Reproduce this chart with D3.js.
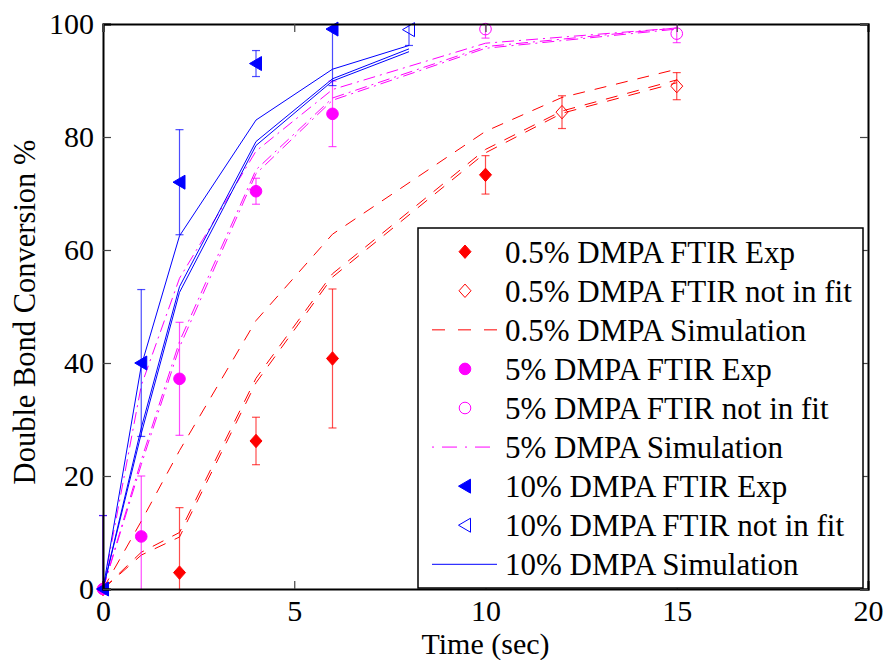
<!DOCTYPE html>
<html>
<head>
<meta charset="utf-8">
<script src="https://cdn.jsdelivr.net/npm/d3@7"></script>
<style>
  body { margin: 0; background: #fff; }
  svg { display: block; }
</style>
</head>
<body>
<svg id="chart" width="883" height="660"></svg>
<script>
// Axis ticks
const xTicks = [0, 5, 10, 15, 20];
const yTicks = [0, 20, 40, 60, 80, 100];

// 0.5% DMPA
const lowExpTime  = [0, 2, 4, 6, 10];
const lowExpValue = [0, 2.9, 26.2, 40.8, 73.3];
const lowExpErr   = [0, 11.5, 4.2, 12.3, 3.4];
const lowOutTime  = [12, 15];
const lowOutValue = [84.4, 89.0];
const lowOutErr   = [2.9, 2.4];
const lowSimTime  = [0, 1, 2, 4, 6, 10, 12, 15];
const lowSimA     = [0, 12, 24.5, 47.5, 62.8, 81, 87, 92];
const lowSimB     = [0, 6.5, 10, 37.3, 55.8, 77.8, 84.6, 90.1];
const lowSimC     = [0, 6, 9.2, 36.5, 55.2, 77.2, 84.2, 89.6];

// 5% DMPA
const midExpTime  = [0, 1, 2, 4, 6];
const midExpValue = [0, 9.3, 37.2, 70.4, 84.1];
const midExpErr   = [13, 10.7, 10, 2.3, 5.8];
const midOutTime  = [10, 15];
const midOutValue = [99.1, 98.3];
const midOutErr   = [1.6, 1.6];
const midSimTime  = [0, 1, 2, 4, 6, 10, 15];
const midSimA     = [0, 36, 55, 77.5, 88.4, 96.6, 99.3];
const midSimB     = [0, 22.8, 43.8, 74.2, 86.9, 96.0, 99.3];
const midSimC     = [0, 22, 42.8, 73.5, 86.5, 95.7, 99.1];

// 10% DMPA
const highExpTime  = [0, 1, 2, 4, 6];
const highExpValue = [0, 40, 72, 93, 99.1];
const highExpErr   = [13, 13, 9.3, 2.3, 10];
const highOutTime  = [8];
const highOutValue = [99];
const highOutErr   = [2.8];
const highSimTime  = [0, 1, 2, 4, 6, 8];
const highSimA     = [0, 39.5, 62.5, 83, 92, 96.2];
const highSimB     = [0, 28.5, 53.5, 79.2, 90.3, 95.6];
const highSimC     = [0, 27.5, 52.5, 78.5, 89.9, 95.1];

const RED = "#ff0000", MAG = "#ff00ff", BLUE = "#0000ff";
const DASH = "12,10", DASHDOT = "12,5,2,5";
const SERIF = "'Liberation Serif', 'Times New Roman', Times, 'DejaVu Serif', serif";

const svg = d3.select("#chart");
const plotLeft = 103, plotRight = 868, plotTop = 24, plotBottom = 589;
const x = d3.scaleLinear().domain([0, 20]).range([plotLeft, plotRight]);
const y = d3.scaleLinear().domain([0, 100]).range([plotBottom, plotTop]);

svg.append("rect").attr("width", 883).attr("height", 660).attr("fill", "#fff");

svg.append("defs").append("clipPath").attr("id", "plotClip")
  .append("rect").attr("x", plotLeft - 4).attr("y", plotTop)
  .attr("width", plotRight - plotLeft + 8).attr("height", plotBottom - plotTop);

// marker shapes
const markerPath = {
  diamond: "M0,-6.7L6,0L0,6.7L-6,0Z",
  circle: d3.symbol().type(d3.symbolCircle).size(Math.PI * 5.8 * 5.8)(),
  triangle: "M-6.5,0L5.5,-7L5.5,7Z"
};

const clipped = svg.append("g").attr("clip-path", "url(#plotClip)");
const marks = svg.append("g");

function simLine(times, values, color, dash) {
  const pts = times.map((t, i) => [t, values[i]]);
  clipped.append("path")
    .attr("d", d3.line().x(d => x(d[0])).y(d => y(d[1]))(pts))
    .attr("fill", "none").attr("stroke", color).attr("stroke-width", 1)
    .attr("stroke-dasharray", dash || null);
}

function errorSeries(times, values, errs, color, shape, filled) {
  times.forEach((t, i) => {
    const e = errs[i];
    if (e > 0) {
      const cx = x(t), y1 = y(values[i] - e), y2 = y(values[i] + e);
      const g = clipped.append("g").attr("stroke", color).attr("stroke-width", 1.2).attr("stroke-opacity", 0.7);
      g.append("line").attr("x1", cx).attr("x2", cx).attr("y1", y1).attr("y2", y2);
      g.append("line").attr("x1", cx - 4).attr("x2", cx + 4).attr("y1", y1).attr("y2", y1);
      g.append("line").attr("x1", cx - 4).attr("x2", cx + 4).attr("y1", y2).attr("y2", y2);
    }
  });
  times.forEach((t, i) => {
    marks.append("path")
      .attr("d", markerPath[shape])
      .attr("transform", `translate(${x(t)},${y(values[i])})`)
      .attr("fill", filled ? color : "none")
      .attr("stroke", color).attr("stroke-width", 1);
  });
}

// 0.5% DMPA
errorSeries(lowExpTime, lowExpValue, lowExpErr, RED, "diamond", true);
errorSeries(lowOutTime, lowOutValue, lowOutErr, RED, "diamond", false);
simLine(lowSimTime, lowSimA, RED, DASH);
simLine(lowSimTime, lowSimB, RED, DASH);
simLine(lowSimTime, lowSimC, RED, DASH);
// 5% DMPA
errorSeries(midExpTime, midExpValue, midExpErr, MAG, "circle", true);
errorSeries(midOutTime, midOutValue, midOutErr, MAG, "circle", false);
simLine(midSimTime, midSimA, MAG, DASHDOT);
simLine(midSimTime, midSimB, MAG, DASHDOT);
simLine(midSimTime, midSimC, MAG, DASHDOT);
// 10% DMPA
errorSeries(highExpTime, highExpValue, highExpErr, BLUE, "triangle", true);
errorSeries(highOutTime, highOutValue, highOutErr, BLUE, "triangle", false);
simLine(highSimTime, highSimA, BLUE);
simLine(highSimTime, highSimB, BLUE);
simLine(highSimTime, highSimC, BLUE);

// axes: labelled bottom/left, mirrored ticks top/right
const axisFont = 30;
const gx = svg.append("g").attr("transform", `translate(0,${plotBottom})`)
  .call(d3.axisBottom(x).tickValues(xTicks).tickSize(-8).tickPadding(0).tickFormat(d3.format("d")));
const gy = svg.append("g").attr("transform", `translate(${plotLeft},0)`)
  .call(d3.axisLeft(y).tickValues(yTicks).tickSize(-8).tickPadding(9).tickFormat(d3.format("d")));
const gt = svg.append("g").attr("transform", `translate(0,${plotTop})`)
  .call(d3.axisTop(x).tickValues(xTicks).tickSize(-8).tickFormat(""));
const gr = svg.append("g").attr("transform", `translate(${plotRight},0)`)
  .call(d3.axisRight(y).tickValues(yTicks).tickSize(-8).tickFormat(""));
[gx, gy, gt, gr].forEach(g => {
  g.attr("font-family", SERIF).attr("font-size", axisFont);
  g.select(".domain").attr("stroke", "#000").attr("stroke-width", 2);
  g.selectAll(".tick line").attr("stroke", "#444").attr("stroke-width", 1.2);
  g.selectAll(".tick text").attr("font-size", axisFont)
    .attr("font-family", SERIF).attr("fill", "#000");
});
gx.selectAll(".tick text").attr("y", 32).attr("dy", null);

svg.append("text").attr("x", (plotLeft + plotRight) / 2).attr("y", 654)
  .attr("text-anchor", "middle").attr("font-family", SERIF).attr("font-size", axisFont).text("Time (sec)");
svg.append("text").attr("transform", `translate(35,312) rotate(-90)`)
  .attr("text-anchor", "middle").attr("font-family", SERIF).attr("font-size", 30.5)
  .text("Double Bond Conversion %");

// legend
const legendItems = [
  { label: "0.5% DMPA FTIR Exp", color: RED, shape: "diamond", filled: true },
  { label: "0.5% DMPA FTIR not in fit", color: RED, shape: "diamond", filled: false },
  { label: "0.5% DMPA Simulation", color: RED, dash: "13,13" },
  { label: "5% DMPA FTIR Exp", color: MAG, shape: "circle", filled: true },
  { label: "5% DMPA FTIR not in fit", color: MAG, shape: "circle", filled: false },
  { label: "5% DMPA Simulation", color: MAG, dash: "2,8,15,8" },
  { label: "10% DMPA FTIR Exp", color: BLUE, shape: "triangle", filled: true },
  { label: "10% DMPA FTIR not in fit", color: BLUE, shape: "triangle", filled: false },
  { label: "10% DMPA Simulation", color: BLUE, dash: null }
];
const lg = svg.append("g");
lg.append("rect").attr("x", 418).attr("y", 228).attr("width", 445).attr("height", 360)
  .attr("fill", "#fff").attr("stroke", "#000").attr("stroke-width", 1.5);
const rowY = d3.scaleLinear().domain([0, 8]).range([251.7, 564.3]);
legendItems.forEach((d, i) => {
  const cy = rowY(i);
  if (d.shape) {
    lg.append("path").attr("d", markerPath[d.shape])
      .attr("transform", `translate(465,${cy})`)
      .attr("fill", d.filled ? d.color : "none").attr("stroke", d.color).attr("stroke-width", 1);
  } else {
    lg.append("line").attr("x1", 432).attr("x2", 497).attr("y1", cy).attr("y2", cy)
      .attr("stroke", d.color).attr("stroke-width", 1).attr("stroke-dasharray", d.dash || null);
  }
  lg.append("text").attr("x", 505).attr("y", cy + 11)
    .attr("font-family", SERIF).attr("font-size", 31).text(d.label);
});
</script>
</body>
</html>
